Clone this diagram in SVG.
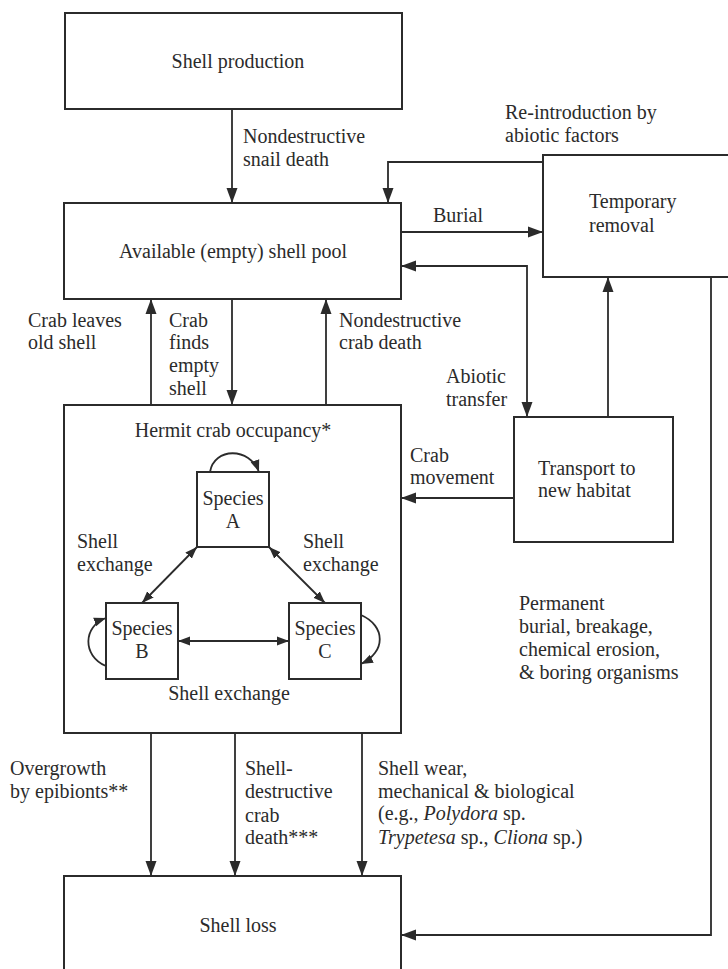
<svg xmlns="http://www.w3.org/2000/svg" width="728" height="969" viewBox="0 0 728 969">
<style>
.box{fill:#fff;stroke:#2b2b2b;stroke-width:2}
.sbox{fill:#fff;stroke:#2b2b2b;stroke-width:2}
.ln{fill:none;stroke:#2b2b2b;stroke-width:1.8}
.ln2{fill:none;stroke:#2b2b2b;stroke-width:1.8}
text{font-family:"Liberation Serif","Times New Roman",serif;font-size:20px;fill:#2b2b2b}
.c{text-anchor:middle}
.i{font-style:italic}
</style>
<defs>
<marker id="ah" markerUnits="userSpaceOnUse" markerWidth="16" markerHeight="12" refX="15" refY="6" orient="auto-start-reverse" viewBox="0 0 16 12">
<path d="M0,0.5 L15,6 L0,11.5 z" fill="#2b2b2b"/>
</marker>
<marker id="sh" markerUnits="userSpaceOnUse" markerWidth="13" markerHeight="10" refX="12" refY="5" orient="auto-start-reverse" viewBox="0 0 13 10">
<path d="M0,0.5 L12,5 L0,9.5 z" fill="#2b2b2b"/>
</marker>
</defs>

<g id="shell-production">
<rect class="box" x="65" y="13" width="337" height="96"/>
<text class="c" x="238" y="68">Shell production</text>
</g>

<g id="shell-pool">
<rect class="box" x="64" y="203" width="337" height="96"/>
<text class="c" x="233" y="258">Available (empty) shell pool</text>
</g>

<g id="temporary-removal">
<rect class="box" x="543" y="155" width="200" height="122"/>
<text x="589" y="208">Temporary</text>
<text x="589" y="232">removal</text>
</g>

<g id="transport">
<rect class="box" x="514" y="417" width="159" height="125"/>
<text x="538" y="475">Transport to</text>
<text x="538" y="497">new habitat</text>
</g>

<g id="hermit-occupancy">
<rect class="box" x="64" y="405" width="337" height="328"/>
<text class="c" x="233" y="437">Hermit crab occupancy*</text>
</g>

<g id="species-a">
<rect class="sbox" x="197" y="472" width="72" height="75"/>
<text class="c" x="233" y="505">Species</text>
<text class="c" x="233" y="528">A</text>
</g>

<g id="species-b">
<rect class="sbox" x="106" y="603" width="72" height="76"/>
<text class="c" x="142" y="635">Species</text>
<text class="c" x="142" y="658">B</text>
</g>

<g id="species-c">
<rect class="sbox" x="289" y="603" width="72" height="76"/>
<text class="c" x="325" y="635">Species</text>
<text class="c" x="325" y="658">C</text>
</g>

<g id="shell-loss">
<rect class="box" x="64" y="876" width="337" height="110"/>
<text class="c" x="238" y="932">Shell loss</text>
</g>

<g id="connectors">
<path class="ln" d="M232,109 V203" marker-end="url(#ah)"/>
<path class="ln" d="M543,162 H388 V203" marker-end="url(#ah)"/>
<path class="ln" d="M401,232 H543" marker-end="url(#ah)"/>
<path class="ln" d="M401,266 H527 V417" marker-start="url(#ah)" marker-end="url(#ah)"/>
<path class="ln" d="M151,405 V299" marker-end="url(#ah)"/>
<path class="ln" d="M232,299 V405" marker-end="url(#ah)"/>
<path class="ln" d="M326,405 V299" marker-end="url(#ah)"/>
<path class="ln" d="M608,417 V277" marker-end="url(#ah)"/>
<path class="ln" d="M514,498 H401" marker-end="url(#ah)"/>
<path class="ln" d="M711,277 V935 H401" marker-end="url(#ah)"/>
<path class="ln" d="M151,733 V876" marker-end="url(#ah)"/>
<path class="ln" d="M235,733 V876" marker-end="url(#ah)"/>
<path class="ln" d="M362,733 V876" marker-end="url(#ah)"/>
<path class="ln2" d="M197,547 L142,603" marker-start="url(#sh)" marker-end="url(#sh)"/>
<path class="ln2" d="M269,547 L325,603" marker-start="url(#sh)" marker-end="url(#sh)"/>
<path class="ln2" d="M178,641 H289" marker-start="url(#sh)" marker-end="url(#sh)"/>
<path class="ln2" d="M210,472 C214,447 250,447 259,472" marker-end="url(#sh)"/>
<path class="ln2" d="M106,666 C82,656 83,626 106,618" marker-end="url(#sh)"/>
<path class="ln2" d="M361,615 C386,626 386,652 361,664" marker-end="url(#sh)"/>
</g>

<g id="labels">
<text x="243" y="143">Nondestructive</text>
<text x="243" y="166">snail death</text>
<text x="505" y="119">Re-introduction by</text>
<text x="505" y="142">abiotic factors</text>
<text x="433" y="222">Burial</text>
<text x="28" y="327">Crab leaves</text>
<text x="28" y="349">old shell</text>
<text x="169" y="327">Crab</text>
<text x="169" y="349">finds</text>
<text x="169" y="372">empty</text>
<text x="169" y="395">shell</text>
<text x="339" y="327">Nondestructive</text>
<text x="339" y="349">crab death</text>
<text x="446" y="383">Abiotic</text>
<text x="446" y="406">transfer</text>
<text x="410" y="462">Crab</text>
<text x="410" y="484">movement</text>
<text x="77" y="548">Shell</text>
<text x="77" y="571">exchange</text>
<text x="303" y="548">Shell</text>
<text x="303" y="571">exchange</text>
<text class="c" x="229" y="700">Shell exchange</text>
<text x="519" y="610">Permanent</text>
<text x="519" y="633">burial, breakage,</text>
<text x="519" y="656">chemical erosion,</text>
<text x="519" y="679">&amp; boring organisms</text>
<text x="10" y="775">Overgrowth</text>
<text x="10" y="798">by epibionts**</text>
<text x="245" y="775">Shell-</text>
<text x="245" y="798">destructive</text>
<text x="245" y="822">crab</text>
<text x="245" y="844">death***</text>
<text x="378" y="775">Shell wear,</text>
<text x="378" y="798">mechanical &amp; biological</text>
<text x="378" y="820">(e.g., <tspan class="i">Polydora</tspan> sp.</text>
<text x="378" y="844"><tspan class="i">Trypetesa</tspan> sp., <tspan class="i">Cliona</tspan> sp.)</text>
</g>
</svg>
